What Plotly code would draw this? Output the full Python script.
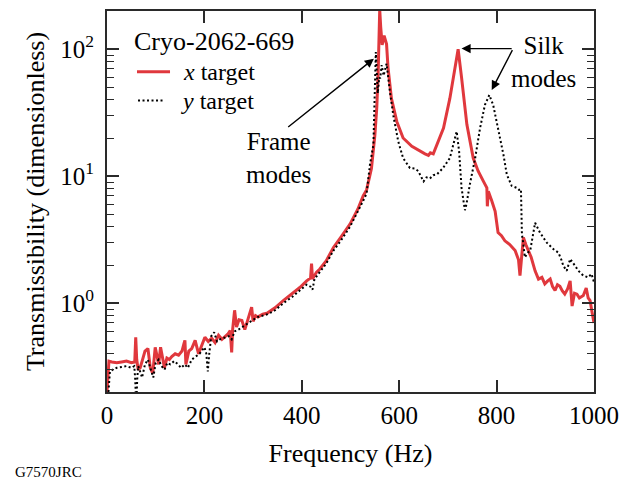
import plotly.graph_objects as go
import numpy as np

# ---------------- data ----------------
x_freq = [0, 2, 4, 10, 20, 30, 40, 50, 57, 59, 61, 64, 68, 73, 78, 84, 89, 94, 99, 103,
          106, 110, 114, 118, 123, 128, 133, 140, 147, 154, 158, 160, 162, 168, 174, 181,
          188, 195, 201, 208, 215, 222, 229, 236, 242, 248, 253, 256, 258, 262, 266, 271,
          277, 283, 290, 297, 300, 305, 310, 320, 330, 345, 362, 380, 396, 410, 418, 420,
          422, 430, 437, 450, 465, 480, 499, 515, 526, 533, 543, 550, 554, 557, 560, 562,
          565, 569, 574, 577, 584, 595, 608, 626, 643, 653, 660, 664, 670, 677, 691, 704,
          715, 721, 728, 739, 752, 762, 773, 780, 781, 783, 790, 797, 803, 810, 817, 827,
          838, 845, 848, 852, 855, 860, 865, 871, 879, 886, 893, 899, 905, 910, 915, 920,
          925, 930, 935, 940, 946, 951, 955, 960, 965, 970, 978, 984, 988, 992, 996, 1000]
x_target = [0.2, 0.3, 0.35, 0.345, 0.34, 0.345, 0.35, 0.34, 0.345, 0.54, 0.36, 0.3, 0.31, 0.36,
            0.42, 0.44, 0.31, 0.28, 0.45, 0.38, 0.33, 0.45, 0.38, 0.31, 0.37, 0.36, 0.38, 0.40,
            0.39, 0.42, 0.48, 0.51, 0.33, 0.42, 0.44, 0.51, 0.40, 0.47, 0.54, 0.50, 0.53, 0.49,
            0.56, 0.52, 0.54, 0.57, 0.61, 0.41, 0.62, 0.88, 0.65, 0.74, 0.73, 0.62, 0.76, 0.93,
            0.72, 0.80, 0.78, 0.82, 0.84, 0.92, 1.05, 1.18, 1.33, 1.5, 1.58, 2.05, 1.55, 1.75,
            1.86, 2.15, 2.75, 3.3, 4.2, 5.5, 7.0, 7.8, 11.5, 21, 35, 70, 205, 150, 108, 128,
            110, 72, 41, 27, 20, 17.2, 15.7, 15.0, 14.6, 15.3, 15.0, 17.7, 24, 41, 70, 100, 60,
            25.5, 13.9, 11, 9.1, 8.1, 5.8, 7.6, 6.4, 5.3, 3.6, 3.4, 3.1, 2.9, 2.6, 2.2, 1.65,
            2.4, 3.3, 2.9, 2.6, 2.3, 1.8, 1.55, 1.6, 1.42, 1.5, 1.55, 1.35, 1.26, 1.4, 1.36,
            1.25, 1.18, 1.3, 1.5, 0.95, 1.2, 1.18, 1.1, 1.15, 1.32, 1.1, 1.05, 0.85, 0.7]

y_freq = [3, 6, 12, 20, 30, 40, 50, 56, 58, 60, 62, 64, 68, 72, 78, 84, 90, 95, 100, 106,
          112, 118, 124, 130, 138, 146, 152, 160, 166, 174, 182, 190, 196, 200, 204, 207,
          210, 214, 220, 226, 232, 240, 250, 256, 262, 270, 280, 290, 300, 310, 320, 330,
          345, 362, 380, 396, 410, 418, 422, 426, 437, 450, 465, 480, 499, 515, 526, 533,
          540, 547, 552, 556, 559, 561, 564, 568, 574, 581, 588, 598, 608, 622, 632, 639,
          650, 656, 663, 670, 677, 690, 704, 711, 718, 723, 728, 732, 735, 738, 745, 756,
          766, 776, 785, 793, 803, 814, 821, 831, 841, 846, 850, 852, 855, 858, 864, 869,
          875, 879, 889, 903, 917, 927, 933, 937, 944, 951, 958, 968, 978, 988, 995, 1000]
y_target = [0.2, 0.29, 0.30, 0.31, 0.315, 0.32, 0.31, 0.32, 0.25, 0.15, 0.25, 0.32, 0.29,
            0.26, 0.33, 0.36, 0.30, 0.26, 0.34, 0.36, 0.32, 0.30, 0.34, 0.33, 0.35, 0.33,
            0.31, 0.33, 0.31, 0.36, 0.38, 0.40, 0.43, 0.45, 0.40, 0.29, 0.40, 0.55, 0.59,
            0.50, 0.52, 0.53, 0.55, 0.52, 0.60, 0.62, 0.66, 0.70, 0.74, 0.78, 0.80, 0.82,
            0.88, 1.00, 1.12, 1.25, 1.40, 1.35, 1.28, 1.55, 1.78, 2.05, 2.6, 3.1, 4.0, 5.2,
            6.4, 7.3, 12.4, 17.7, 95, 45, 60, 59, 75, 62, 77, 46, 30, 18.8, 13.9, 11.6, 11.5,
            11.0, 9.1, 9.8, 9.6, 10.2, 10.3, 11.6, 13.9, 17.7, 22.5, 15.7, 8.1, 6.4, 5.4, 6.0,
            8.6, 13.9, 23.9, 36.4, 43.6, 36.4, 23.9, 14.8, 10.3, 8.4, 8.1, 7.8, 7.9, 3.5, 2.9,
            2.3, 2.5, 2.6, 3.5, 4.3, 3.6, 3.0, 2.66, 2.5, 2.2, 1.97, 1.80, 2.23, 2.05, 1.80,
            1.65, 1.6, 1.7, 1.46]

x_ticks = [0, 200, 400, 600, 800, 1000]
y_ticks = [1, 10, 100]
y_ticktext = ["10<sup>0</sup>", "10<sup>1</sup>", "10<sup>2</sup>"]
y_minor = [0.2, 0.3, 0.4, 0.5, 0.6, 0.7, 0.8, 0.9, 2, 3, 4, 5, 6, 7, 8, 9,
           20, 30, 40, 50, 60, 70, 80, 90, 200]

FONT = "Liberation Serif, Times New Roman, serif"
RED = "#e0383d"
AX = "#2a2a2a"
RED_W = 3
BLK_DASH = "2px,2.5px"

fig = go.Figure()
fig.add_trace(go.Scatter(x=x_freq, y=x_target, mode="lines", name="x target",
                         line=dict(color=RED, width=RED_W)))
fig.add_trace(go.Scatter(x=y_freq, y=y_target, mode="lines", name="y target",
                         line=dict(color="black", width=2, dash=BLK_DASH)))

fig.update_layout(
    width=631, height=483,
    margin=dict(l=107, r=37, t=9, b=91),
    paper_bgcolor="white", plot_bgcolor="white",
    font=dict(family=FONT, size=25, color="black"),
    showlegend=False,
    xaxis=dict(range=[0, 1000], tickvals=x_ticks, ticks="inside", ticklen=12,
               tickwidth=1.5, tickcolor=AX, showline=True, linecolor=AX, linewidth=2,
               mirror="ticks", showgrid=False, zeroline=False,
               tickfont=dict(size=25),
               title=dict(text="Frequency (Hz)", font=dict(size=26), standoff=16)),
    yaxis=dict(type="log", range=[np.log10(0.2), np.log10(200)], tickvals=y_ticks,
               ticktext=y_ticktext, ticks="inside", ticklen=12, tickwidth=1.5,
               tickcolor=AX, showline=True, linecolor=AX, linewidth=2, mirror="ticks",
               showgrid=False, zeroline=False, tickfont=dict(size=25),
               ticklabelstandoff=6,
               minor=dict(tickvals=y_minor, ticks="inside", ticklen=7, tickwidth=1.2,
                          tickcolor=AX, showgrid=False),
               title=dict(text="Transmissibility (dimensionless)", font=dict(size=26),
                          standoff=8)),
)

# manual legend (title + line samples + labels)
fig.add_annotation(xref="paper", yref="paper", x=0.051, y=0.92, xanchor="left",
                   yanchor="middle", text="Cryo-2062-669", showarrow=False,
                   font=dict(size=26))
fig.add_shape(type="line", xref="paper", yref="paper", x0=0.0616, x1=0.1294,
              y0=0.8407, y1=0.8407, line=dict(color=RED, width=RED_W))
fig.add_shape(type="line", xref="paper", yref="paper", x0=0.0637, x1=0.119,
              y0=0.765, y1=0.765, line=dict(color="black", width=2, dash=BLK_DASH))
fig.add_annotation(xref="paper", yref="paper", x=0.151, y=0.840, xanchor="left",
                   yanchor="middle", text="<i>x</i> target", showarrow=False,
                   font=dict(size=24))
fig.add_annotation(xref="paper", yref="paper", x=0.148, y=0.763, xanchor="left",
                   yanchor="middle", text="<i>y</i> target", showarrow=False,
                   font=dict(size=24))

arrow = dict(showarrow=True, arrowhead=2, arrowsize=1.3, arrowwidth=1.4,
             arrowcolor="black", axref="x", ayref="y", standoff=0)
fig.add_annotation(x=548, y=1.926, ax=369, ay=1.378, text="", **arrow)
fig.add_annotation(x=728, y=2.005, ax=834, ay=2.005, text="", **arrow)
fig.add_annotation(x=790, y=1.679, ax=834, ay=2.005, text="", **arrow)
fig.add_annotation(x=352, y=1.141, text="Frame<br>modes", showarrow=False,
                   font=dict(size=25), align="center")
fig.add_annotation(x=897, y=1.90, text="Silk<br>modes", showarrow=False,
                   font=dict(size=25), align="center")
fig.add_annotation(xref="paper", yref="paper", x=-0.193, y=-0.209, xanchor="left",
                   yanchor="middle", text="G7570JRC", showarrow=False,
                   font=dict(size=15))

fig.write_html("out.html")
